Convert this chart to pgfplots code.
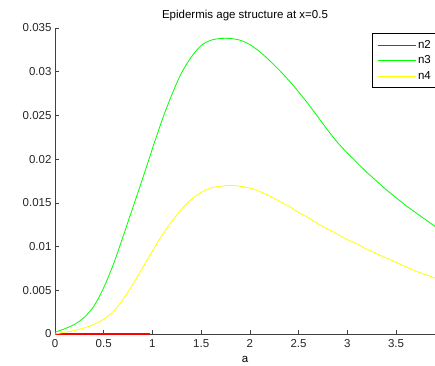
\documentclass[border=0pt]{standalone}
\usepackage{pgfplots}
\pgfplotsset{compat=1.18}
\usepackage{fontspec}
\setmainfont{Liberation Sans}
\definecolor{axgray}{RGB}{64,64,64}
\begin{document}
\begin{tikzpicture}[x=1pt,y=1pt]
\path[use as bounding box] (0,0) rectangle (435,365);
\begin{axis}[
  at={(55pt,31pt)}, anchor=south west,
  scale only axis, width=380pt, height=306pt,
  xmin=0, xmax=3.9, ymin=0, ymax=0.035,
  axis x line*=bottom, axis y line*=left,
  axis line style={axgray, line width=0.6pt},
  tick style={axgray, line width=0.6pt},
  tick align=inside, major tick length=4pt,
  xtick={0,0.5,...,3.5},
  ytick={0,0.005,...,0.035},
  scaled y ticks=false,
  yticklabel style={/pgf/number format/.cd, fixed, precision=3},
  xticklabel style={yshift=-2pt},
  /pgf/number format/assume math mode=true,
  tick label style={font=\fontsize{11.5}{13}\selectfont, text=black!85},
  title={Epidermis age structure at x=0.5},
  title style={font=\fontsize{11.5}{13}\selectfont, yshift=-2pt},
  xlabel={a},
  xlabel style={font=\fontsize{11.5}{13}\selectfont, yshift=-2pt},
  legend style={at={(0.834,0.984)}, anchor=north west, draw=black, line width=0.6pt,
    font=\fontsize{11.5}{13}\selectfont, cells={anchor=west}, row sep=2pt,
    inner xsep=5pt, inner ysep=5pt},
  legend image code/.code={\draw[#1] (0pt,0pt) -- (38pt,0pt);},
  legend image post style={line width=0.8pt},
  legend cell align=left,
  clip=false,
]
\addplot[red, line width=1.6pt] coordinates {(0,0) (0.98,0)};
\addlegendentry{n2\hspace{8pt}}
\addplot[color={rgb,255:red,0;green,255;blue,0}, line width=0.8pt, smooth] coordinates {
(0,0.0002) (0.1,0.0006) (0.2,0.0011) (0.3,0.0019) (0.4,0.0032) (0.5,0.0053)
(0.6,0.0080) (0.7,0.0112) (0.8,0.0145) (0.9,0.0178) (1.0,0.0212) (1.1,0.0245)
(1.2,0.0274) (1.3,0.0299) (1.4,0.0317) (1.5,0.0330) (1.6,0.0336) (1.7,0.0338)
(1.8,0.0338) (1.9,0.0336) (2.0,0.0331) (2.1,0.0323) (2.2,0.0313) (2.3,0.0302)
(2.4,0.0290) (2.5,0.0277) (2.6,0.0263) (2.7,0.0248) (2.8,0.0233) (2.9,0.0219)
(3.0,0.0207) (3.1,0.0196) (3.2,0.0185) (3.3,0.0175) (3.4,0.0165) (3.5,0.0156)
(3.6,0.0147) (3.7,0.0139) (3.8,0.0131) (3.9,0.0123)};
\addlegendentry{n3}
\addplot[color={rgb,255:red,255;green,255;blue,0}, line width=0.8pt, smooth] coordinates {
(0,0.0000) (0.1,0.0002) (0.2,0.0004) (0.3,0.0007) (0.4,0.0011) (0.5,0.0017)
(0.6,0.0026) (0.7,0.0040) (0.8,0.0057) (0.9,0.0076) (1.0,0.0095) (1.1,0.0113)
(1.2,0.0129) (1.3,0.0143) (1.4,0.0154) (1.5,0.0162) (1.6,0.0167) (1.7,0.0169)
(1.8,0.0170) (1.9,0.0169) (2.0,0.0167) (2.1,0.0163) (2.2,0.0158) (2.3,0.0152)
(2.4,0.0146) (2.5,0.0139) (2.6,0.0133) (2.7,0.0126) (2.8,0.0120) (2.9,0.0114)
(3.0,0.0108) (3.1,0.0103) (3.2,0.0097) (3.3,0.0092) (3.4,0.0087) (3.5,0.0082)
(3.6,0.0077) (3.7,0.0072) (3.8,0.0068) (3.9,0.0064)};
\addlegendentry{n4}
\end{axis}
\end{tikzpicture}
\end{document}
